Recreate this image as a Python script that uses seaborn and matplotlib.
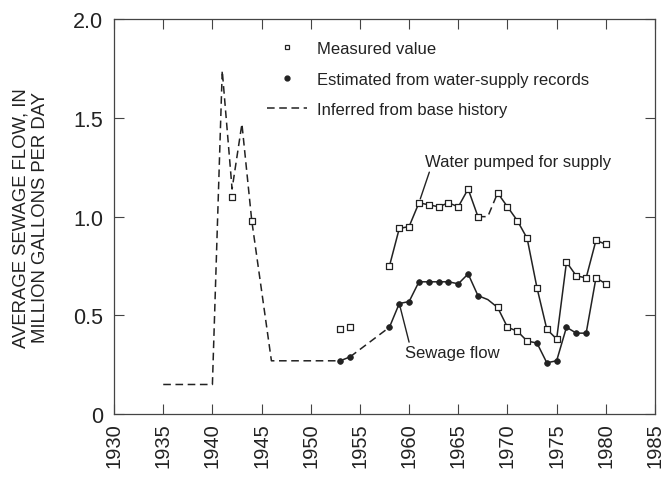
import numpy as np
import matplotlib
matplotlib.use("Agg")
import matplotlib.pyplot as plt
import seaborn as sns
from matplotlib.lines import Line2D

# Inferred from base history (dashed)
base_years = [1935, 1940, 1941, 1942, 1943, 1944, 1946, 1953]
base_vals = [0.15, 0.15, 1.74, 1.14, 1.47, 0.98, 0.27, 0.27]

# Early isolated measured values
early_meas_years = [1942, 1944, 1953, 1954]
early_meas_vals = [1.10, 0.98, 0.43, 0.44]

# Early sewage flow estimates
early_sew_years = [1953, 1954]
early_sew_vals = [0.27, 0.29]
gap_sew_years = [1954, 1958]
gap_sew_vals = [0.29, 0.44]

# Sewage flow, 1958-1980
sew_years = [1958, 1959, 1960, 1961, 1962, 1963, 1964, 1965, 1966, 1967, 1968,
             1969, 1970, 1971, 1972, 1973, 1974, 1975, 1976, 1977, 1978, 1979, 1980]
sew_vals = [0.44, 0.56, 0.57, 0.67, 0.67, 0.67, 0.67, 0.66, 0.71, 0.60, 0.58,
            0.54, 0.44, 0.42, 0.37, 0.36, 0.26, 0.27, 0.44, 0.41, 0.41, 0.69, 0.66]
sew_measured = [1969, 1970, 1971, 1972, 1979, 1980]
sew_no_marker = [1968]

# Water pumped for supply
water_years_a = [1958, 1959, 1960, 1961, 1962, 1963, 1964, 1965, 1966, 1967]
water_vals_a = [0.75, 0.94, 0.95, 1.07, 1.06, 1.05, 1.07, 1.05, 1.14, 1.00]
water_gap_years = [1967, 1968, 1969]
water_gap_vals = [1.00, 1.00, 1.12]
water_years_b = [1969, 1970, 1971, 1972, 1973, 1974, 1975, 1976, 1977, 1978, 1979, 1980]
water_vals_b = [1.12, 1.05, 0.98, 0.89, 0.64, 0.43, 0.38, 0.77, 0.70, 0.69, 0.88, 0.86]

x_ticks = list(range(1930, 1986, 5))
y_ticks = [0, 0.5, 1.0, 1.5, 2.0]
y_tick_labels = ["0", "0.5", "1.0", "1.5", "2.0"]

sns.set_style("ticks")
plt.rcParams['font.family'] = ['Liberation Sans', 'DejaVu Sans']

ink = "#222222"
lw = 1.1
dash = (0, (5, 3))
sq = dict(marker="s", s=16, facecolor="white", edgecolor=ink, linewidth=0.9, zorder=4)
dot = dict(marker="o", s=17, color=ink, edgecolor=ink, linewidth=0.5, zorder=4)

fig, ax = plt.subplots(figsize=(6.67, 4.81), dpi=100)
fig.subplots_adjust(left=0.171, right=0.982, bottom=0.137, top=0.958)

# dashed inferred history
sns.lineplot(x=base_years, y=base_vals, ax=ax, color=ink, linewidth=lw,
             linestyle=dash, sort=False)
sns.lineplot(x=gap_sew_years, y=gap_sew_vals, ax=ax, color=ink, linewidth=lw, linestyle=dash)
sns.lineplot(x=water_gap_years, y=water_gap_vals, ax=ax, color=ink, linewidth=lw, linestyle=dash)

# solid lines
sns.lineplot(x=early_sew_years, y=early_sew_vals, ax=ax, color=ink, linewidth=lw)
sns.lineplot(x=sew_years, y=sew_vals, ax=ax, color=ink, linewidth=lw)
sns.lineplot(x=water_years_a, y=water_vals_a, ax=ax, color=ink, linewidth=lw)
sns.lineplot(x=water_years_b, y=water_vals_b, ax=ax, color=ink, linewidth=lw)

# markers
sew_dot_x = [y for y in sew_years if y not in sew_measured and y not in sew_no_marker]
sew_dot_y = [v for y, v in zip(sew_years, sew_vals) if y in sew_dot_x]
sew_sq_x = [y for y in sew_years if y in sew_measured]
sew_sq_y = [v for y, v in zip(sew_years, sew_vals) if y in sew_measured]

sns.scatterplot(x=early_sew_years + sew_dot_x, y=early_sew_vals + sew_dot_y, ax=ax, **dot)
sns.scatterplot(x=sew_sq_x, y=sew_sq_y, ax=ax, **sq)
sns.scatterplot(x=water_years_a + water_years_b, y=water_vals_a + water_vals_b, ax=ax, **sq)
sns.scatterplot(x=early_meas_years, y=early_meas_vals, ax=ax, **sq)

# labels on the curves
ax.annotate("Water pumped for supply", xy=(1961, water_vals_a[3]), xytext=(1961.6, 1.28),
            fontsize=12, color=ink, va="center", ha="left",
            arrowprops=dict(arrowstyle="-", color=ink, lw=1.0,
                            shrinkA=0, shrinkB=3, relpos=(0.03, 0.0)))
ax.annotate("Sewage flow", xy=(1959, sew_vals[1]), xytext=(1959.6, 0.31),
            fontsize=12, color=ink, va="center", ha="left",
            arrowprops=dict(arrowstyle="-", color=ink, lw=1.0,
                            shrinkA=0, shrinkB=3, relpos=(0.05, 1.0)))

# legend
handles = [
    Line2D([], [], linestyle="none", marker="s", markersize=3.5, markerfacecolor="white",
           markeredgecolor=ink, markeredgewidth=0.9),
    Line2D([], [], linestyle="none", marker="o", markersize=3.5, color=ink),
    Line2D([], [], color=ink, linewidth=lw, linestyle=dash),
]
labels = ["Measured value", "Estimated from water-supply records", "Inferred from base history"]
leg = ax.legend(handles, labels, loc="upper left", bbox_to_anchor=(0.283, 0.944),
                frameon=False, fontsize=12, handlelength=2.4, handletextpad=0.6,
                labelspacing=0.93, borderpad=0, borderaxespad=0)
for t in leg.get_texts():
    t.set_color(ink)

ax.set_xlim(1930, 1985)
ax.set_ylim(0, 2.0)
ax.set_xticks(x_ticks)
ax.set_xticklabels([str(x) for x in x_ticks], rotation=90)
ax.set_yticks(y_ticks)
ax.set_yticklabels(y_tick_labels)
ax.tick_params(axis="both", direction="in", length=7, width=0.8, colors="#444444",
               labelcolor=ink, top=True, right=True)
ax.tick_params(axis="y", labelsize=15.5, pad=8)
ax.tick_params(axis="x", labelsize=14.5, pad=6)
for s in ax.spines.values():
    s.set_color("#444444")
    s.set_linewidth(0.9)

ax.set_xlabel("")
ax.set_ylabel("AVERAGE SEWAGE FLOW, IN\nMILLION GALLONS PER DAY", fontsize=13.3,
              color=ink, linespacing=1.2)
ax.yaxis.set_label_coords(-0.12, 0.5)

fig.savefig("out.png", dpi=100)
